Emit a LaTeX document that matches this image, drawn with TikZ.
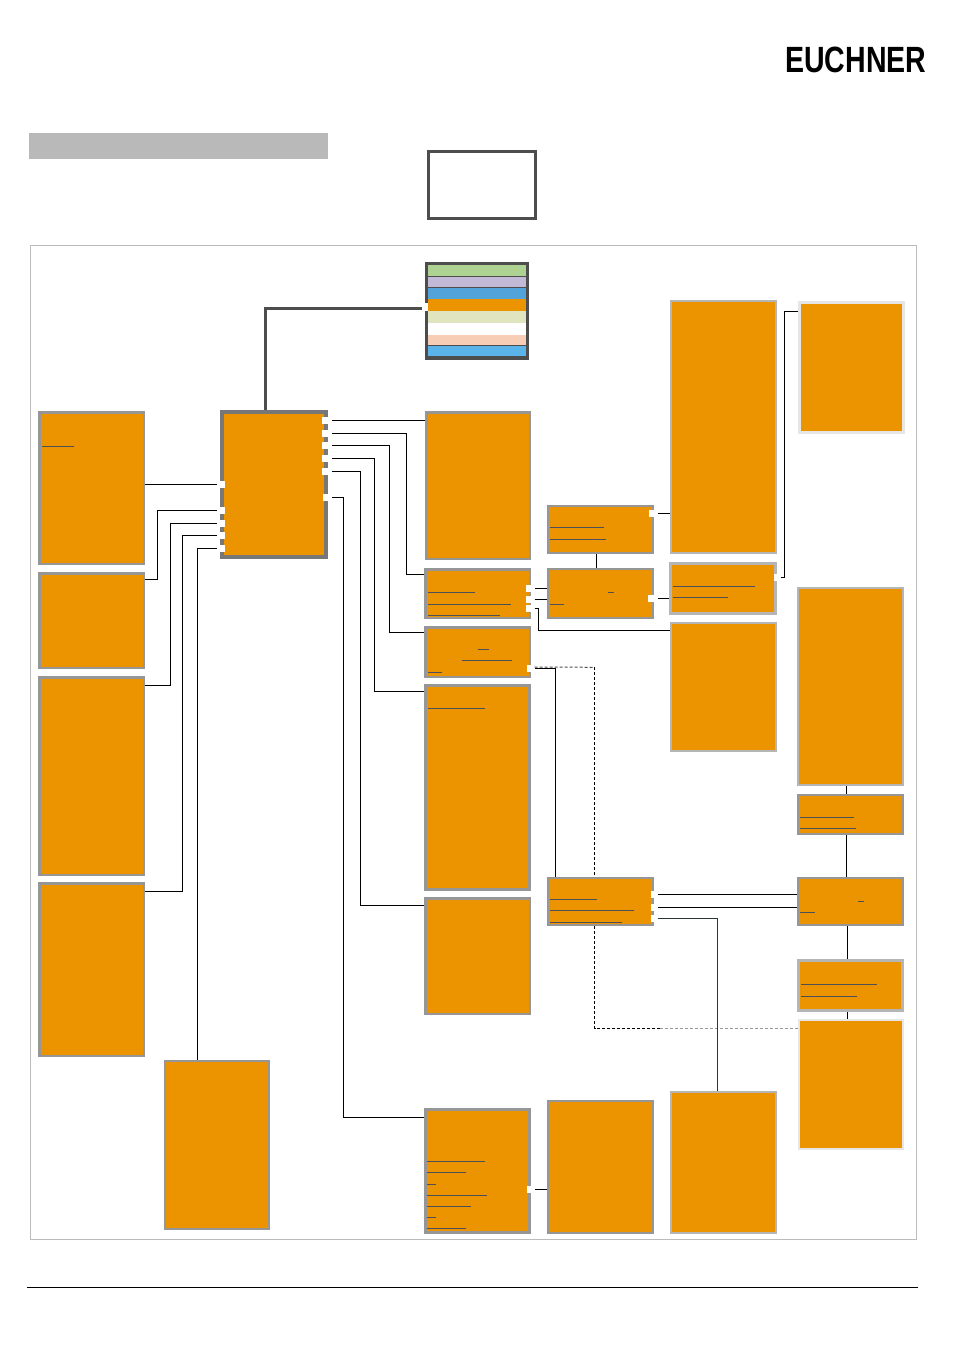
\documentclass[tikz,border=0pt]{standalone}
\usepackage{graphicx}
\usepackage{fontspec}
\setmainfont{Liberation Sans}
\definecolor{orangebox}{HTML}{EC9400}
\definecolor{bordermid}{HTML}{969696}
\definecolor{borderlight}{HTML}{B5B5B5}
\definecolor{borderpale}{HTML}{E6E6E6}
\definecolor{borderdark}{HTML}{777777}
\definecolor{darkline}{HTML}{4D4D4D}
\definecolor{linkline}{HTML}{4A4F58}
\definecolor{slatewire}{HTML}{2D3436}
\tikzset{
  anybox/.style={inner sep=0pt,fill=orangebox},
  midbox/.style={anybox,draw=bordermid},
  lightbox/.style={anybox,draw=borderlight},
  palebox/.style={anybox,draw=borderpale},
  mainbox/.style={anybox,draw=borderdark},
  plainrect/.style={inner sep=0pt,draw=none},
  portbox/.style={inner sep=0pt,fill=white,draw=none,outer sep=3.5pt},
  wire/.style={draw=black,line width=1pt},
  thinwire/.style={draw=slatewire,line width=0.9pt},
  heavywire/.style={draw=darkline,line width=2.7pt},
  dashwire/.style={draw=black,line width=0.9pt,dash pattern=on 3pt off 2pt},
  greydash/.style={draw=bordermid,line width=1pt,dash pattern=on 3pt off 2pt},
  link/.style={draw=linkline,line width=0.8pt},
}
% style, line width, name, x1, y1, x2, y2 (outer edges, pixels)
\newcommand\nbx[7]{%
  \pgfmathsetmacro\bxw{#6-#4-#2}%
  \pgfmathsetmacro\bxh{#7-#5-#2}%
  \pgfmathsetmacro\bxx{(#4+#6)/2}%
  \pgfmathsetmacro\bxy{(#5+#7)/2}%
  \pgfmathsetmacro\bxo{#2/2}%
  \node[#1,line width=#2pt,outer sep=\bxo pt,minimum width=\bxw pt,minimum height=\bxh pt] (#3) at (\bxx,\bxy) {};}
% name, x1, y1, x2, y2
\newcommand\prt[5]{%
  \pgfmathsetmacro\bxw{#4-#2}%
  \pgfmathsetmacro\bxh{#5-#3}%
  \pgfmathsetmacro\bxx{(#2+#4)/2}%
  \pgfmathsetmacro\bxy{(#3+#5)/2}%
  \node[portbox,minimum width=\bxw pt,minimum height=\bxh pt] (#1) at (\bxx,\bxy) {};}
\newcommand\ul[3]{\draw[link] (#1,#3) -- (#2,#3);}
\begin{document}
\begin{tikzpicture}[x=1pt,y=-1pt]
\useasboundingbox (0,0) rectangle (954,1350);
% header
\node[inner sep=0pt,anchor=north west] (logo) at (785,46.5) {\resizebox{141pt}{25.5pt}{\textbf{EUCHNER}}};
\nbx{plainrect,fill=borderlight!95!white}{0}{bar}{29}{133}{328}{159}
\nbx{plainrect,draw=darkline,fill=white}{3}{headbox}{426.5}{150}{537}{219.5}
\nbx{plainrect,draw=borderlight!90!white}{1}{frame}{30}{245}{917}{1240}
\draw[black,line width=0.8pt] (27,1287.5) -- (918,1287.5);
% colour stack
\nbx{plainrect,fill=darkline}{0}{stack}{425}{262}{529}{360}
\nbx{plainrect,fill={rgb,255:red,174;green,210;blue,145}}{0}{s1}{428}{265}{526}{276}
\nbx{plainrect,fill={rgb,255:red,194;green,185;blue,214}}{0}{s2}{428}{277}{526}{287}
\nbx{plainrect,fill={rgb,255:red,82;green,163;blue,218}}{0}{s3}{428}{288}{526}{299}
\nbx{plainrect,fill=orangebox}{0}{s4}{428}{299}{526}{311}
\nbx{plainrect,fill={rgb,255:red,224;green,228;blue,191}}{0}{s5}{428}{311}{526}{323}
\nbx{plainrect,fill=white}{0}{s6}{428}{323}{526}{335}
\nbx{plainrect,fill={rgb,255:red,247;green,205;blue,181}}{0}{s7}{428}{335}{526}{345}
\nbx{plainrect,fill={rgb,255:red,90;green,180;blue,234}}{0}{s8}{428}{346}{526}{356}
\prt{lp}{425}{303}{428}{311}
% left column
\nbx{midbox}{2.5}{A}{38}{411}{145}{565}
\nbx{midbox}{2.5}{B}{38}{572}{145}{669}
\nbx{midbox}{2.5}{C}{38}{676}{145}{876}
\nbx{midbox}{2.5}{D}{38}{882}{145}{1057}
\nbx{midbox}{2}{E}{164}{1060}{270}{1230}
\nbx{mainbox}{3.6}{main}{220}{410}{328}{559}
% centre column
\nbx{midbox}{2.5}{F}{425}{411}{531}{560}
\nbx{midbox}{2.5}{G}{424}{568}{531}{619}
\nbx{midbox}{2.5}{H}{424}{626}{531}{678}
\nbx{midbox}{2.8}{I}{424}{684}{531}{891}
\nbx{midbox}{2.5}{J}{424}{897}{531}{1015}
\nbx{midbox}{2.8}{K}{424}{1108}{531}{1234}
% next columns
\nbx{midbox}{2.4}{L}{547}{505}{654}{554}
\nbx{midbox}{2.4}{M}{547}{568}{654}{619}
\nbx{midbox}{2.4}{W}{547}{877}{654}{926}
\nbx{midbox}{2.4}{X}{547}{1100}{654}{1234}
\nbx{lightbox}{2.4}{N}{670}{300}{777}{554}
\nbx{lightbox}{2.6}{O}{669}{562}{777}{615}
\nbx{lightbox}{2.4}{P}{670}{622}{777}{752}
\nbx{lightbox}{2.4}{Y}{670}{1091}{777}{1234}
% right column
\nbx{palebox}{2.6}{Q}{798}{301}{905}{434}
\nbx{lightbox}{2.4}{R}{797}{587}{904}{786}
\nbx{midbox}{2.4}{S}{797}{794}{904}{835}
\nbx{midbox}{2.4}{T}{797}{877}{904}{926}
\nbx{lightbox}{2.8}{U}{797}{959}{904}{1012}
\nbx{palebox}{2.4}{V}{798}{1019}{904}{1150}
% ports
\prt{ml1}{220}{481}{225}{488}
\prt{ml2}{220}{507}{225}{514}
\prt{ml3}{220}{520}{225}{527}
\prt{ml4}{220}{532}{225}{539}
\prt{ml5}{220}{545}{225}{552}
\prt{mr1}{322}{417}{328}{424}
\prt{mr2}{322}{430}{328}{437}
\prt{mr3}{322}{442}{328}{449}
\prt{mr4}{322}{455}{328}{462}
\prt{mr5}{322}{468}{328}{475}
\prt{mr6}{323}{494}{328}{501}
\prt{g1}{526}{585}{531}{592}
\prt{g2}{526}{596}{531}{603}
\prt{g3}{526}{605}{531}{612}
\prt{h1}{527}{665}{531}{672}
\prt{k1}{527}{1186}{531}{1193}
\prt{l1}{649}{510}{654}{517}
\prt{m1}{648}{595}{654}{602}
\prt{o1}{774}{574}{777}{581}
\prt{w1}{651}{891}{654}{898}
\prt{w2}{651}{904}{654}{911}
\prt{w3}{651}{915}{654}{922}
% connectors
\draw[heavywire] (265.5,0 |- main.north) -- (265.5,308.5) -- (lp.west |- 0,308.5);
\draw[wire] (A.east |- ml1.west) -- (ml1.west);
\draw[wire] (B.east |- 0,579.5) -- (157.5,579.5) -- (157.5,0 |- ml2.west) -- (ml2.west);
\draw[wire] (C.east |- 0,685.5) -- (170.5,685.5) -- (170.5,0 |- ml3.west) -- (ml3.west);
\draw[wire] (D.east |- 0,891) -- (182.5,891) -- (182.5,0 |- ml4.west) -- (ml4.west);
\draw[wire] (197.5,0 |- E.north) -- (197.5,0 |- ml5.west) -- (ml5.west);
\draw[wire] (mr1.east) -- (F.west |- mr1.east);
\draw[wire] (mr2.east) -- (406.5,0 |- mr2.east) -- (406.5,574.5) -- (G.west |- 0,574.5);
\draw[wire] (mr3.east) -- (389.5,0 |- mr3.east) -- (389.5,632.5) -- (H.west |- 0,632.5);
\draw[wire] (mr4.east) -- (374.5,0 |- mr4.east) -- (374.5,691.5) -- (I.west |- 0,691.5);
\draw[wire] (mr5.east) -- (360.5,0 |- mr5.east) -- (360.5,905.5) -- (J.west |- 0,905.5);
\draw[wire] (mr6.east) -- (343.5,0 |- mr6.east) -- (343.5,1117.5) -- (K.west |- 0,1117.5);
\draw[wire] (g1.east) -- (M.west |- g1.east);
\draw[wire] (g2.east) -- (M.west |- g2.east);
\draw[wire] (g3.east) -- (538.5,0 |- g3.east) -- (538.5,630.5) -- (P.west |- 0,630.5);
\draw[wire] (h1.east) -- (555.5,0 |- h1.east) -- (555.5,0 |- W.north);
\draw[greydash,draw=darkline] (h1.east) ++(0,-1.5) -- (594.5,667.3);
\draw[dashwire] (594.5,667.3) -- (594.5,0 |- W.north);
\draw[dashwire] (594.5,0 |- W.south) -- (594.5,1028.5) -- (660,1028.5);
\draw[greydash] (660,1028.5) -- (V.west |- 0,1028.5);
\draw[wire] (l1.east) -- (N.west |- l1.east);
\draw[wire] (596.5,0 |- L.south) -- (596.5,0 |- M.north);
\draw[wire] (m1.east) -- (O.west |- m1.east);
\draw[wire] (o1.east) -- (784.5,0 |- o1.east) -- (784.5,311) -- (Q.west |- 0,311);
\draw[wire] (w1.east) -- (T.west |- w1.east);
\draw[wire] (w2.east) -- (T.west |- w2.east);
\draw[thinwire] (w3.east) -- (717.5,0 |- w3.east) -- (717.5,0 |- Y.north);
\draw[wire] (k1.east) -- (X.west |- k1.east);
\draw[wire] (846.7,0 |- R.south) -- (846.7,0 |- S.north);
\draw[wire] (846.7,0 |- S.south) -- (846.7,0 |- T.north);
\draw[wire] (847.5,0 |- T.south) -- (847.5,0 |- U.north);
\draw[wire] (847.5,0 |- U.south) -- (847.5,0 |- V.north);
% hyperlink underlines
\ul{42}{74}{446.5}
\ul{428}{475}{592.3}\ul{428}{511}{604.3}\ul{428}{500}{615.3}
\ul{478}{489}{649.3}\ul{462}{512}{660.3}\ul{428}{442}{672.3}
\ul{428}{485}{708.3}
\ul{550}{604}{527.3}\ul{550}{606}{539.3}
\ul{608}{613.5}{592.3}\ul{550}{564}{604.3}
\ul{672.7}{755}{586.3}\ul{672.7}{728}{597.3}
\ul{800.3}{854}{817.3}\ul{800.3}{856}{828.3}
\ul{858}{863.5}{901.3}\ul{800.3}{815}{912.3}
\ul{801}{877}{984.3}\ul{801}{857}{996.3}
\ul{550}{597}{899.3}\ul{550}{634}{910.3}\ul{550}{622}{922.3}
\ul{427.3}{485}{1161.3}\ul{427.3}{466}{1172.3}\ul{427.3}{436}{1184.3}
\ul{427.3}{487}{1195.3}\ul{427.3}{471}{1206.3}\ul{427.3}{436}{1217.3}\ul{427.3}{466}{1228.3}
\end{tikzpicture}
\end{document}
